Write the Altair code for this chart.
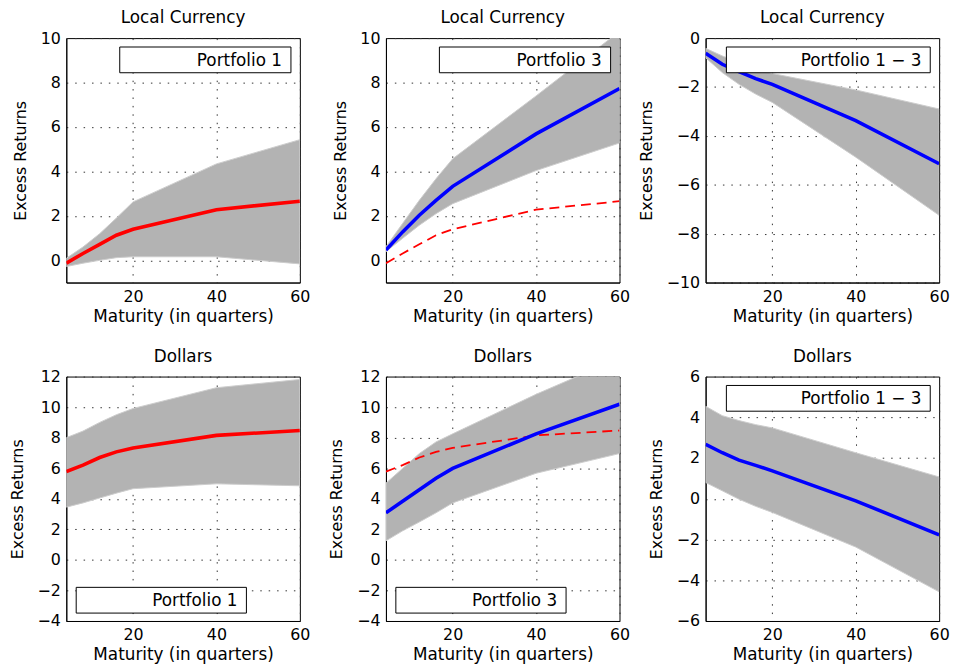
import altair as alt
import pandas as pd

maturity = [4, 8, 12, 16, 20, 40, 60]

# Local currency
loc_p1_mid = [-0.13, 0.31, 0.72, 1.13, 1.40, 2.28, 2.66]
loc_p1_hi = [0.09, 0.60, 1.20, 1.90, 2.63, 4.34, 5.43]
loc_p1_lo = [-0.28, -0.13, 0.00, 0.12, 0.16, 0.16, -0.16]

loc_p3_mid = [0.46, 1.28, 2.03, 2.70, 3.33, 5.69, 7.73]
loc_p3_hi = [0.61, 1.66, 2.70, 3.67, 4.57, 7.40, 10.30]
loc_p3_lo = [0.39, 0.99, 1.58, 2.10, 2.55, 4.04, 5.28]

loc_d_mid = [-0.62, -1.07, -1.37, -1.66, -1.89, -3.38, -5.14]
loc_d_hi = [-0.42, -0.73, -1.00, -1.25, -1.45, -2.12, -2.90]
loc_d_lo = [-0.80, -1.41, -1.89, -2.29, -2.63, -4.87, -7.25]

# Dollars
usd_p1_mid = [5.78, 6.20, 6.70, 7.07, 7.33, 8.15, 8.47]
usd_p1_hi = [8.00, 8.43, 9.00, 9.50, 9.91, 11.27, 11.81]
usd_p1_lo = [3.45, 3.73, 4.05, 4.37, 4.66, 4.98, 4.85]

usd_p3_mid = [3.08, 3.84, 4.59, 5.34, 5.99, 8.25, 10.19]
usd_p3_hi = [5.02, 5.99, 6.96, 7.72, 8.25, 10.84, 13.20]
usd_p3_lo = [1.25, 1.90, 2.48, 3.08, 3.73, 5.67, 6.96]

usd_d_mid = [2.67, 2.26, 1.90, 1.64, 1.37, -0.10, -1.77]
usd_d_hi = [4.54, 4.08, 3.84, 3.64, 3.48, 2.26, 1.07]
usd_d_lo = [0.80, 0.39, -0.02, -0.37, -0.67, -2.37, -4.57]

FONT = "DejaVu Sans"
RED = "#ff0000"
BLUE = "#0000ff"
BAND = "#b3b3b3"

W, H = 236, 247


def panel(title, mid, lo, hi, color, domain, yticks, label, box, ref=None):
    df = pd.DataFrame({"m": maturity, "mid": mid, "lo": lo, "hi": hi})
    xs = alt.Scale(domain=[4, 60], nice=False, zero=False)
    ys = alt.Scale(domain=domain, nice=False, zero=False)
    xax = alt.Axis(values=[20, 40, 60], tickCount=3, title="Maturity (in quarters)", grid=True)
    yax = alt.Axis(values=yticks, tickCount=len(yticks), title="Excess Returns", grid=True)
    base = alt.Chart(df)
    band = base.mark_area(color=BAND, stroke="#cccccc", strokeWidth=1, clip=True).encode(
        x=alt.X("m:Q", scale=xs, axis=xax),
        y=alt.Y("lo:Q", scale=ys, axis=yax),
        y2="hi:Q",
    )
    layers = [band]
    if ref is not None:
        rdf = pd.DataFrame({"m": maturity, "v": ref})
        layers.append(
            alt.Chart(rdf).mark_line(color=RED, strokeWidth=1.8, strokeDash=[10, 6], clip=True).encode(
                x=alt.X("m:Q", scale=xs), y=alt.Y("v:Q", scale=ys)
            )
        )
    layers.append(
        base.mark_line(color=color, strokeWidth=3.6, clip=True).encode(
            x=alt.X("m:Q", scale=xs), y=alt.Y("mid:Q", scale=ys)
        )
    )
    ldf = pd.DataFrame({"label": [label]})
    x0, x1, y0, y1 = box
    layers.append(
        alt.Chart(ldf).mark_rect(fill="white", stroke="black", strokeWidth=1).encode(
            x=alt.value(x0), x2=alt.value(x1), y=alt.value(y0), y2=alt.value(y1)
        )
    )
    layers.append(
        alt.Chart(ldf).mark_text(align="right", baseline="middle", fontSize=17, font=FONT, color="black").encode(
            text="label:N", x=alt.value(x1 - 9), y=alt.value((y0 + y1) / 2 + 1)
        )
    )
    return alt.layer(*layers).properties(
        width=W, height=H,
        title=alt.TitleParams(title, fontSize=17, font=FONT, fontWeight="normal", offset=3, color="black"),
    )


top_box_a = (54, 227, 9, 35)
top_box_b = (21, 227, 9, 35)
bot_box_a = (10, 182, 213, 239)

p1 = panel("Local Currency", loc_p1_mid, loc_p1_lo, loc_p1_hi, RED, [-1, 10], [0, 2, 4, 6, 8, 10], "Portfolio 1", top_box_a)
p2 = panel("Local Currency", loc_p3_mid, loc_p3_lo, loc_p3_hi, BLUE, [-1, 10], [0, 2, 4, 6, 8, 10], "Portfolio 3", top_box_a, ref=loc_p1_mid)
p3 = panel("Local Currency", loc_d_mid, loc_d_lo, loc_d_hi, BLUE, [-10, 0], [-10, -8, -6, -4, -2, 0], "Portfolio 1 \u2212 3", top_box_b)
p4 = panel("Dollars", usd_p1_mid, usd_p1_lo, usd_p1_hi, RED, [-4, 12], list(range(-4, 13, 2)), "Portfolio 1", bot_box_a)
p5 = panel("Dollars", usd_p3_mid, usd_p3_lo, usd_p3_hi, BLUE, [-4, 12], list(range(-4, 13, 2)), "Portfolio 3", bot_box_a, ref=usd_p1_mid)
p6 = panel("Dollars", usd_d_mid, usd_d_lo, usd_d_hi, BLUE, [-6, 6], list(range(-6, 7, 2)), "Portfolio 1 \u2212 3", top_box_b)

chart = alt.concat(
    p1, p2, p3, p4, p5, p6, columns=3, bounds="flush",
    spacing=alt.RowColnumber(row=95, column=87),
).properties(
    padding={"left": 8, "top": 5, "right": 4, "bottom": 2}, background="white"
).configure_view(
    stroke="black", strokeWidth=1
).configure_axis(
    domainColor="black", domainWidth=1,
    ticks=False, tickSize=0,
    labelFont=FONT, labelFontSize=16, labelColor="black", labelPadding=6,
    labelOverlap=False, labelBound=False, labelFlush=False,
    titleFont=FONT, titleFontSize=16, titleFontWeight="normal", titleColor="black",
    gridColor="#333333", gridDash=[1.5, 7], gridWidth=1, gridOpacity=1,
).configure_axisX(titlePadding=4, labelPadding=6, titleFontSize=17).configure_axisY(titlePadding=12)

chart.save("out.html", embed_options={"renderer": "svg", "actions": False})
